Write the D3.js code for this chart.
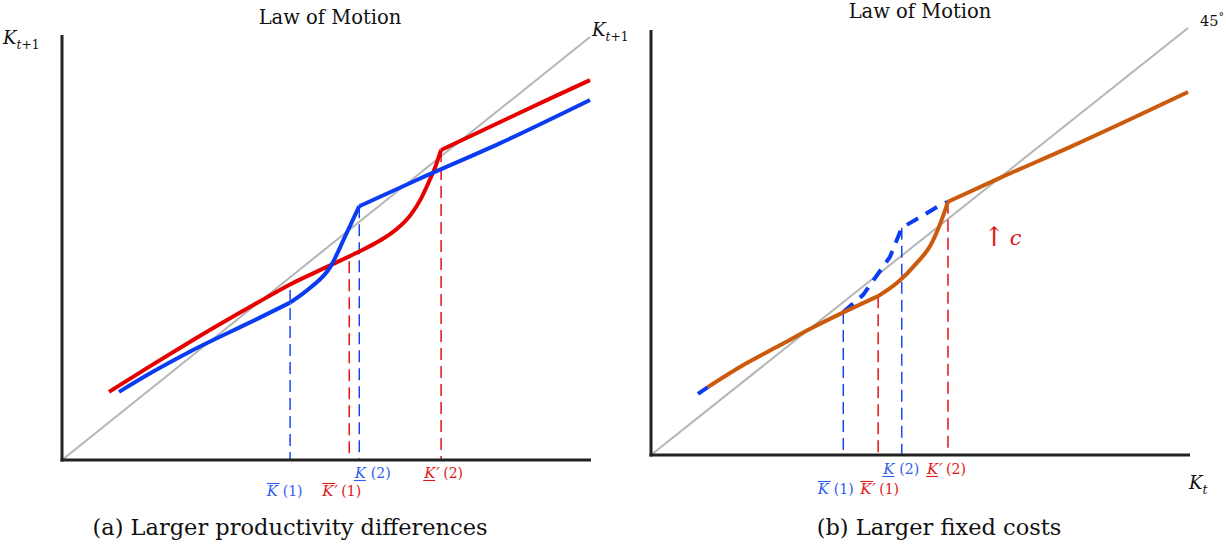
<!DOCTYPE html>
<html>
<head>
<meta charset="utf-8">
<script src="https://cdn.jsdelivr.net/npm/d3@7"></script>
<style>
  html, body { margin: 0; padding: 0; background: #fff; }
  svg { display: block; }
  text { font-family: "DejaVu Serif", "Liberation Serif", serif; }
</style>
</head>
<body>
<svg id="chart" width="1226" height="544"></svg>
<script>
// ---- Panel (a): larger productivity differences ----
// law of motion, low-productivity regime (blue), three branches
const blueA_low  = [[1.08,1.61],[1.67,2.05],[2.42,2.56],[3.69,3.33],[4.32,3.72]];
const blueA_mid  = [[4.32,3.72],[4.70,4.07],[5.08,4.56],[5.36,5.28],[5.63,6.00]];
const blueA_high = [[5.63,6.00],[6.72,6.62],[8.30,7.49],[10.0,8.51]];
// law of motion, high-productivity regime (red)
const redA_low  = [[0.89,1.61],[1.67,2.22],[2.42,2.79],[3.69,3.71],[4.32,4.15],[5.08,4.60],[5.63,4.93],
                   [6.00,5.17],[6.34,5.46],[6.60,5.79],[6.80,6.18],[6.95,6.58],[7.08,6.96],[7.18,7.33]];
const redA_high = [[7.18,7.33],[8.30,7.99],[9.15,8.49],[10.0,8.98]];
// thresholds: K̄(1), K̄'(1), K(2), K'(2)
const markA_x   = [4.32, 5.44, 5.63, 7.18];
const markA_top = [4.02, 4.70, 6.00, 7.33];

// ---- Panel (b): larger fixed costs ----
const orangeB_low  = [[1.06,1.59],[1.75,2.13],[2.40,2.57],[3.02,2.99],[3.65,3.38],[4.23,3.72]];
const orangeB_mid  = [[4.23,3.72],[4.60,4.05],[4.95,4.50],[5.20,4.90],[5.38,5.40],[5.53,5.93]];
const orangeB_high = [[5.53,5.93],[6.50,6.49],[7.80,7.21],[10.0,8.50]];
// law of motion before the rise in c (dashed blue); elsewhere it runs under the orange curve
const blueB_start = [[0.875,1.43],[1.06,1.59]];
const blueB_rise  = [[3.58,3.35],[3.95,3.75],[4.45,4.64],[4.67,5.32],[4.82,5.43],[5.33,5.81],[5.53,5.93]];
const markB_x   = [3.58, 4.23, 4.67, 5.53];
const markB_top = [3.35, 3.72, 5.32, 5.93];

// threshold label pieces (same order in both panels)
const markBar   = ["over", "over", "under", "under"];
const markPrime = [false, true, false, true];
const markIndex = [1, 1, 2, 2];

const titles   = ["Law of Motion", "Law of Motion"];
const captions = ["(a) Larger productivity differences", "(b) Larger fixed costs"];

// ---- drawing ----
const BLUE = "#0b3cf2", RED = "#e60000", ORANGE = "#cc5a0c", GRAY = "#b5b5b5", AXIS = "#222";
const BLUE_T = "#2f5cf0", RED_T = "#e01818";

const svg = d3.select("#chart");

const panelA = {
  x: d3.scaleLinear().domain([0, 10]).range([62, 590]),
  y: d3.scaleLinear().domain([0, 10]).range([460, 37]),
  axisTop: 35, axisRight: 591
};
const panelB = {
  x: d3.scaleLinear().domain([0, 10]).range([651, 1188]),
  y: d3.scaleLinear().domain([0, 10]).range([455, 28]),
  axisTop: 30, axisRight: 1190
};

function lineGen(p, curve) {
  return d3.line().x(d => p.x(d[0])).y(d => p.y(d[1])).curve(curve);
}

function drawDiagonal(p) {
  // 45-degree reference line
  svg.append("path")
    .attr("d", lineGen(p, d3.curveLinear)([[0, 0], [10, 10]]))
    .attr("stroke", GRAY).attr("stroke-width", 2).attr("fill", "none");
}

function drawAxes(p) {
  const g = svg.append("g");
  const x0 = p.x(0), y0 = p.y(0);
  g.append("line").attr("x1", x0).attr("x2", x0).attr("y1", p.axisTop).attr("y2", y0 + 1.5)
    .attr("stroke", AXIS).attr("stroke-width", 3);
  g.append("line").attr("x1", x0 - 1.5).attr("x2", p.axisRight).attr("y1", y0).attr("y2", y0)
    .attr("stroke", AXIS).attr("stroke-width", 3);
}

function drawMarkers(p, xs, tops) {
  xs.forEach((xv, i) => {
    svg.append("line")
      .attr("x1", p.x(xv)).attr("x2", p.x(xv))
      .attr("y1", p.y(tops[i])).attr("y2", p.y(0))
      .attr("stroke", markPrime[i] ? RED : BLUE)
      .attr("stroke-width", 1.4)
      .attr("stroke-dasharray", "12,6");
  });
}

function drawCurve(p, data, color, curve, dash) {
  const path = svg.append("path")
    .attr("d", lineGen(p, curve)(data))
    .attr("stroke", color).attr("stroke-width", 4).attr("fill", "none")
    .attr("stroke-linejoin", "round");
  if (dash) path.attr("stroke-dasharray", dash);
  return path;
}

// K with over/under bar, optional prime, and (n)
function markLabel(cx, baseline, i) {
  const color = markPrime[i] ? RED_T : BLUE_T;
  const g = svg.append("g");
  const k = g.append("text").attr("x", 0).attr("y", 0)
    .attr("font-size", 15).attr("font-style", "italic").attr("fill", color).text("K");
  const bb = k.node().getBBox();
  if (markBar[i] === "over") {
    g.append("line").attr("x1", bb.x + 1).attr("x2", bb.x + bb.width + 1)
      .attr("y1", -12.5).attr("y2", -12.5).attr("stroke", color).attr("stroke-width", 1.1);
  } else {
    g.append("line").attr("x1", bb.x).attr("x2", bb.x + bb.width - 1)
      .attr("y1", 2.5).attr("y2", 2.5).attr("stroke", color).attr("stroke-width", 1.1);
  }
  let xNext = bb.x + bb.width + 1;
  if (markPrime[i]) {
    const pr = g.append("text").attr("x", xNext - 1).attr("y", 1)
      .attr("font-size", 16).attr("font-style", "italic").attr("fill", color).text("′");
    const pb = pr.node().getBBox();
    xNext = pb.x + pb.width;
  }
  g.append("text").attr("x", xNext + 3).attr("y", 0)
    .attr("font-size", 14).attr("fill", color).text("(" + markIndex[i] + ")");
  const gb = g.node().getBBox();
  g.attr("transform", `translate(${cx - (gb.x + gb.width / 2)},${baseline})`);
}

function subLabel(x, y, main, subItalic, subRest, size) {
  const t = svg.append("text").attr("x", x).attr("y", y).attr("font-size", size).attr("fill", "#111");
  t.append("tspan").attr("font-style", "italic").text(main);
  const s = t.append("tspan").attr("font-size", size * 0.68).attr("dy", size * 0.27);
  s.append("tspan").attr("font-style", "italic").text(subItalic);
  if (subRest) s.append("tspan").text(subRest);
}

// Panel (a)
drawDiagonal(panelA);
drawMarkers(panelA, markA_x, markA_top);
drawCurve(panelA, redA_low, RED, d3.curveMonotoneX);
drawCurve(panelA, redA_high, RED, d3.curveMonotoneX);
drawCurve(panelA, blueA_low, BLUE, d3.curveMonotoneX);
drawCurve(panelA, blueA_mid, BLUE, d3.curveMonotoneX);
drawCurve(panelA, blueA_high, BLUE, d3.curveMonotoneX);
drawAxes(panelA);

// Panel (b)
drawDiagonal(panelB);
drawMarkers(panelB, markB_x, markB_top);
drawCurve(panelB, blueB_start, BLUE, d3.curveLinear);
drawCurve(panelB, blueB_rise, BLUE, d3.curveLinear, "13,9");
drawCurve(panelB, orangeB_low, ORANGE, d3.curveMonotoneX);
drawCurve(panelB, orangeB_mid, ORANGE, d3.curveMonotoneX);
drawCurve(panelB, orangeB_high, ORANGE, d3.curveMonotoneX);
drawAxes(panelB);

// threshold labels: index 2 on the upper row, index 1 on the lower row
const labelShiftA = [-6, -8, 13, 2];
const labelShiftB = [-8, 1, -1, -2];
markA_x.forEach((xv, i) => markLabel(panelA.x(xv) + labelShiftA[i], markIndex[i] === 2 ? 478 : 496, i));
markB_x.forEach((xv, i) => markLabel(panelB.x(xv) + labelShiftB[i], markIndex[i] === 2 ? 474 : 494, i));

// titles
svg.append("text").attr("x", 330).attr("y", 24).attr("text-anchor", "middle")
  .attr("font-size", 19.5).attr("fill", "#111").text(titles[0]);
svg.append("text").attr("x", 920).attr("y", 18).attr("text-anchor", "middle")
  .attr("font-size", 19.5).attr("fill", "#111").text(titles[1]);

// axis labels
subLabel(3, 44, "K", "t", "+1", 18);
subLabel(592, 36, "K", "t", "+1", 18);
subLabel(1189, 489, "K", "t", null, 18);
const deg = svg.append("text").attr("x", 1200).attr("y", 26).attr("font-size", 14.5).attr("fill", "#111");
deg.append("tspan").text("45");
deg.append("tspan").attr("font-size", 11).attr("dy", -5).text("°");

// fixed-cost annotation
const up = svg.append("text").attr("x", 983).attr("y", 246).attr("fill", RED_T);
up.append("tspan").attr("font-size", 27).text("↑");
up.append("tspan").attr("font-size", 21).attr("font-style", "italic").attr("dx", 4).attr("dy", -1).text("c");

// captions
svg.append("text").attr("x", 290).attr("y", 535).attr("text-anchor", "middle")
  .attr("font-size", 22.5).attr("fill", "#111").text(captions[0]);
svg.append("text").attr("x", 939).attr("y", 535).attr("text-anchor", "middle")
  .attr("font-size", 22.5).attr("fill", "#111").text(captions[1]);
</script>
</body>
</html>
